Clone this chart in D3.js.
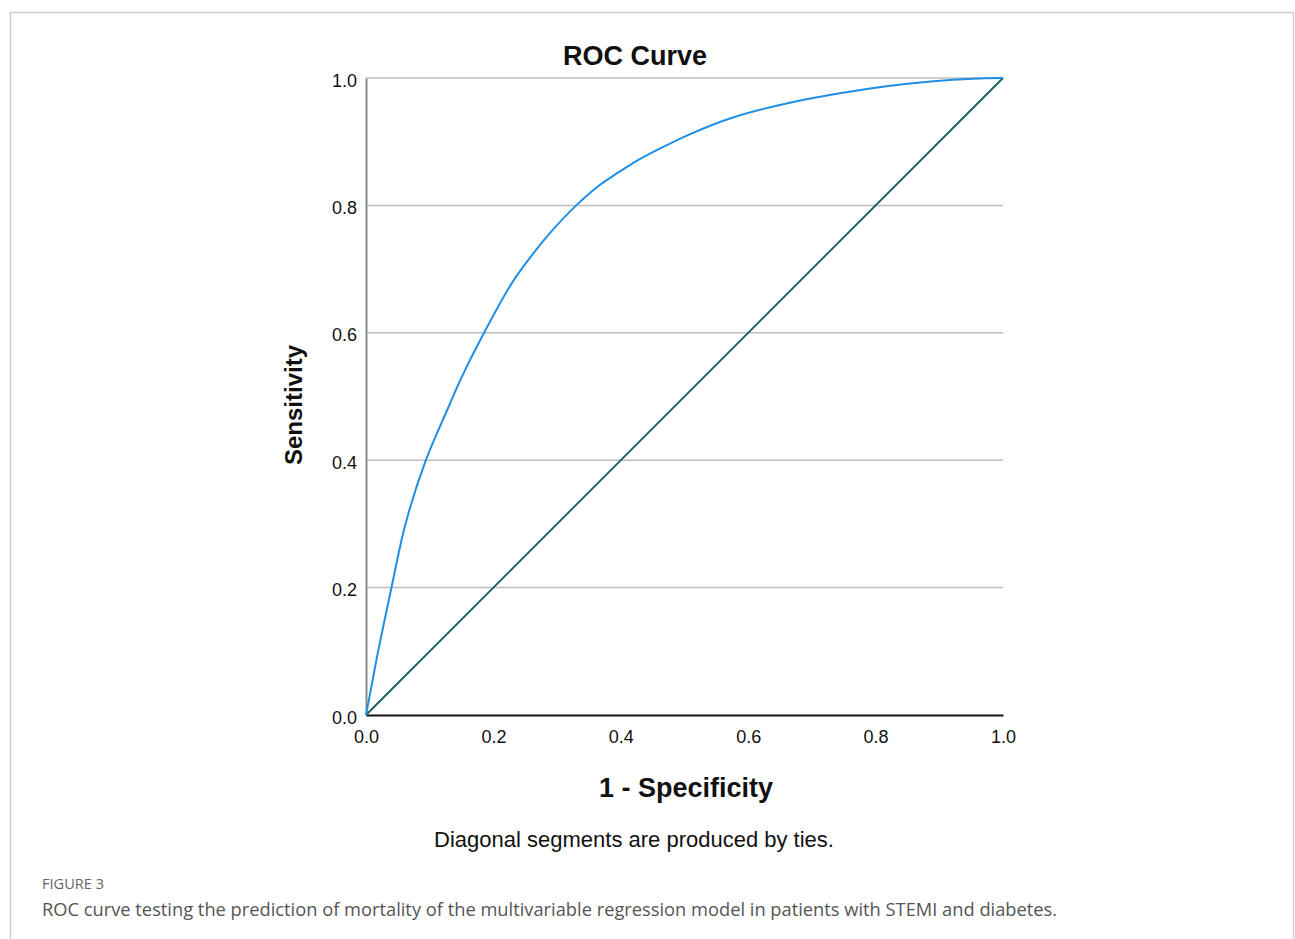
<!DOCTYPE html>
<html>
<head>
<meta charset="utf-8">
<script src="https://cdn.jsdelivr.net/npm/d3@7"></script>
<style>
  body { margin: 0; background: #fff; }
  svg { display: block; }
</style>
</head>
<body>
<svg id="chart" width="1295" height="939"></svg>
<script>
// ROC points (1 - specificity, sensitivity)
const fpr = [0, 0.0095, 0.020, 0.040, 0.062, 0.094, 0.128, 0.150, 0.180, 0.229, 0.263, 0.290, 0.330, 0.367, 0.395, 0.425, 0.455, 0.509, 0.576, 0.660, 0.744, 0.817, 0.891, 0.953, 1];
const tpr = [0, 0.050, 0.105, 0.200, 0.300, 0.400, 0.480, 0.530, 0.590, 0.678, 0.725, 0.758, 0.800, 0.832, 0.851, 0.870, 0.886, 0.912, 0.938, 0.960, 0.976, 0.987, 0.995, 0.999, 1];
const refLine = [0, 1];
const ticks = [0, 0.2, 0.4, 0.6, 0.8, 1.0];

const svg = d3.select('#chart');
const font = '"Liberation Sans", Arial, sans-serif';

// outer figure frame
svg.append('rect')
  .attr('x', 10.5).attr('y', 12.5)
  .attr('width', 1283).attr('height', 940)
  .attr('fill', 'none')
  .attr('stroke', '#cfcfcf')
  .attr('stroke-width', 1.5);

const x = d3.scaleLinear().domain([0, 1]).range([366, 1003]);
const y = d3.scaleLinear().domain([0, 1]).range([715, 78]);

// gridlines
svg.append('g')
  .selectAll('line')
  .data(ticks.filter(d => d > 0))
  .enter()
  .append('line')
  .attr('x1', x(0)).attr('x2', x(1))
  .attr('y1', d => y(d)).attr('y2', d => y(d))
  .attr('stroke', '#bdbdbd')
  .attr('stroke-width', 1.5);

// y axis
const yAxis = svg.append('g')
  .attr('transform', `translate(${x(0)},0)`)
  .call(d3.axisLeft(y).tickValues(ticks).tickFormat(d3.format('.1f')).tickSize(0).tickPadding(9));
yAxis.select('.domain').attr('stroke', '#8a8a8a').attr('stroke-width', 2);
yAxis.selectAll('text')
  .attr('font-family', font).attr('font-size', 18).attr('fill', '#111')
  .attr('dy', '0.45em');

// x axis
const xAxis = svg.append('g')
  .attr('transform', `translate(0,${y(0)})`)
  .call(d3.axisBottom(x).tickValues(ticks).tickFormat(d3.format('.1f')).tickSize(0).tickPadding(15));
xAxis.select('.domain').attr('stroke', '#111').attr('stroke-width', 2);
xAxis.selectAll('text')
  .attr('font-family', font).attr('font-size', 18).attr('fill', '#111');

// reference diagonal
svg.append('line')
  .attr('x1', x(refLine[0])).attr('y1', y(refLine[0]))
  .attr('x2', x(refLine[1])).attr('y2', y(refLine[1]))
  .attr('stroke', '#105c5c')
  .attr('stroke-width', 1.8);

// ROC curve
const pts = fpr.map((d, i) => [d, tpr[i]]);
svg.append('path')
  .datum(pts)
  .attr('fill', 'none')
  .attr('stroke', '#1f8fe5')
  .attr('stroke-width', 2)
  .attr('d', d3.line().x(d => x(d[0])).y(d => y(d[1])).curve(d3.curveCatmullRom.alpha(0.5)));

// titles
svg.append('text')
  .attr('x', 635).attr('y', 65)
  .attr('text-anchor', 'middle')
  .attr('font-family', font).attr('font-weight', 'bold').attr('font-size', 27)
  .attr('fill', '#111')
  .text('ROC Curve');

svg.append('text')
  .attr('x', 686).attr('y', 797)
  .attr('text-anchor', 'middle')
  .attr('font-family', font).attr('font-weight', 'bold').attr('font-size', 27)
  .attr('fill', '#111')
  .text('1 - Specificity');

svg.append('text')
  .attr('transform', 'translate(302,405) rotate(-90)')
  .attr('text-anchor', 'middle')
  .attr('font-family', font).attr('font-weight', 'bold').attr('font-size', 24)
  .attr('fill', '#111')
  .text('Sensitivity');

svg.append('text')
  .attr('x', 634).attr('y', 847)
  .attr('text-anchor', 'middle')
  .attr('font-family', font).attr('font-size', 22)
  .attr('fill', '#111')
  .text('Diagonal segments are produced by ties.');

// caption
svg.append('text')
  .attr('x', 42).attr('y', 889)
  .attr('font-family', '"Open Sans", sans-serif').attr('font-size', 14.6)
  .attr('fill', '#666')
  .text('FIGURE 3');

svg.append('text')
  .attr('x', 42).attr('y', 916)
  .attr('font-family', '"Open Sans", sans-serif').attr('font-size', 18.3)
  .attr('fill', '#555')
  .text('ROC curve testing the prediction of mortality of the multivariable regression model in patients with STEMI and diabetes.');
</script>
</body>
</html>
